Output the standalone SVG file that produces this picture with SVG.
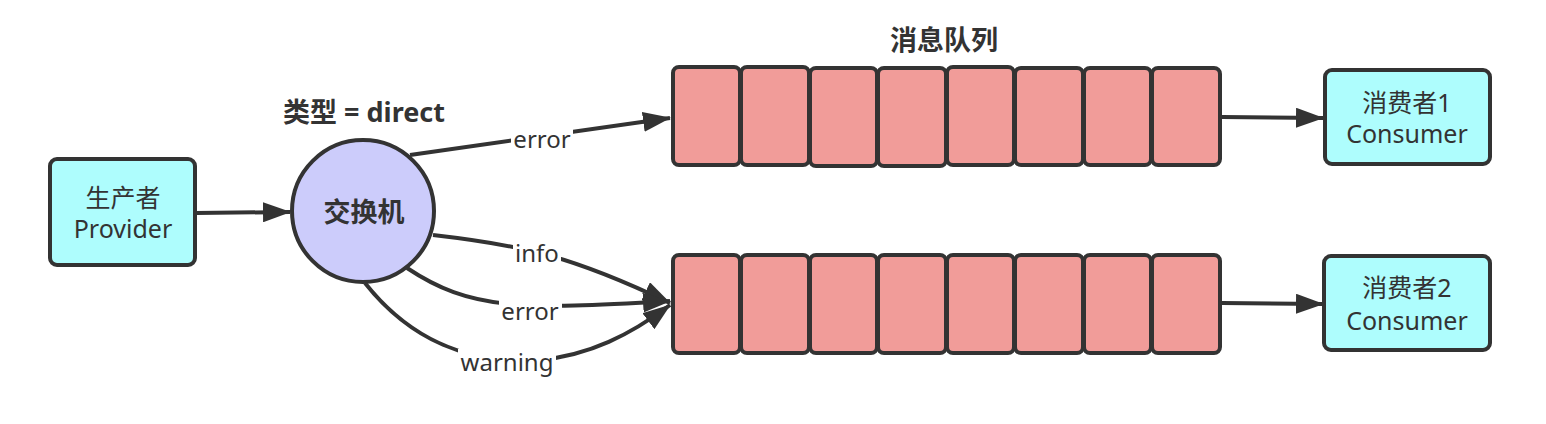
<svg xmlns="http://www.w3.org/2000/svg" width="1546" height="424" viewBox="0 0 1546 424">
<defs>
<marker id="arr" viewBox="0 0 28 20" refX="27" refY="10" markerWidth="28" markerHeight="20" orient="auto" markerUnits="userSpaceOnUse">
<path d="M0,0 L28,10 L0,20 Z" fill="#333333"/>
</marker>
</defs>
<style>
.box{fill:#aefdfd;stroke:#333333;stroke-width:4}
.cell{fill:#f19c99;stroke:#333333;stroke-width:4}
.circ{fill:#ccccfb;stroke:#333333;stroke-width:4}
.edge{fill:none;stroke:#333333;stroke-width:4}
.t{font-family:"Noto Sans","Noto Sans CJK SC",sans-serif;font-size:25px;fill:#333333;text-anchor:middle}
.b{font-weight:bold;font-size:27px}
.lbl{font-family:"Noto Sans","Noto Sans CJK SC",sans-serif;font-size:24px;fill:#333333;text-anchor:middle}
.bg{fill:#ffffff}
</style>
<rect width="1546" height="424" fill="#ffffff"/>
<g id="connectors">
<path class="edge" d="M196,213 L290,212" marker-end="url(#arr)"/>
<path class="edge" d="M410,155 L670,118" marker-end="url(#arr)"/>
<path class="edge" d="M433,235 C520,245 570,255 670,303" marker-end="url(#arr)"/>
<path class="edge" d="M407,268 C470,310 520,310 670,301" marker-end="url(#arr)"/>
<path class="edge" d="M365,283 C410,340 470,365 540,360 C590,355 630,335 670,305" marker-end="url(#arr)"/>
<path class="edge" d="M1222,117 L1323,118" marker-end="url(#arr)"/>
<path class="edge" d="M1222,303 L1323,304" marker-end="url(#arr)"/>
<rect class="bg" x="511" y="127" width="62" height="26"/>
<text class="lbl" x="542" y="148">error</text>
<rect class="bg" x="513" y="239" width="48" height="28"/>
<text class="lbl" x="537" y="262">info</text>
<rect class="bg" x="499" y="299" width="63" height="26"/>
<text class="lbl" x="530" y="320">error</text>
<rect class="bg" x="458" y="349" width="98" height="30"/>
<text class="lbl" x="507" y="371">warning</text>
</g>
<g id="provider">
<rect class="box" x="50" y="159" width="145" height="106" rx="7"/>
<text class="t" x="123" y="207">生产者</text>
<text class="t" x="123" y="238">Provider</text>
</g>
<g id="exchange">
<circle class="circ" cx="363" cy="211" r="71"/>
<text class="t b" x="364" y="222">交换机</text>
</g>
<g id="exchange-type">
<text class="t b" x="364" y="122">类型 = direct</text>
</g>
<g id="queue-title">
<text class="t b" x="944" y="50">消息队列</text>
</g>
<g id="queue1">
<rect class="cell" x="673" y="67" width="67" height="98" rx="6"/>
<rect class="cell" x="741" y="67" width="68" height="98" rx="6"/>
<rect class="cell" x="810" y="68" width="67" height="98" rx="6"/>
<rect class="cell" x="878" y="68" width="68" height="98" rx="6"/>
<rect class="cell" x="947" y="67" width="67" height="98" rx="6"/>
<rect class="cell" x="1015" y="68" width="68" height="97" rx="6"/>
<rect class="cell" x="1084" y="68" width="67" height="97" rx="6"/>
<rect class="cell" x="1152" y="68" width="68" height="97" rx="6"/>
</g>
<g id="queue2">
<rect class="cell" x="673" y="255" width="67" height="98" rx="6"/>
<rect class="cell" x="741" y="255" width="68" height="98" rx="6"/>
<rect class="cell" x="810" y="255" width="67" height="98" rx="6"/>
<rect class="cell" x="878" y="255" width="68" height="98" rx="6"/>
<rect class="cell" x="947" y="255" width="67" height="98" rx="6"/>
<rect class="cell" x="1015" y="255" width="68" height="98" rx="6"/>
<rect class="cell" x="1084" y="255" width="67" height="98" rx="6"/>
<rect class="cell" x="1152" y="255" width="68" height="98" rx="6"/>
</g>
<g id="consumer1">
<rect class="box" x="1325" y="70" width="165" height="94" rx="7"/>
<text class="t" x="1407" y="112">消费者1</text>
<text class="t" x="1407" y="143">Consumer</text>
</g>
<g id="consumer2">
<rect class="box" x="1324" y="256" width="166" height="94" rx="7"/>
<text class="t" x="1407" y="297">消费者2</text>
<text class="t" x="1407" y="330">Consumer</text>
</g>
</svg>
